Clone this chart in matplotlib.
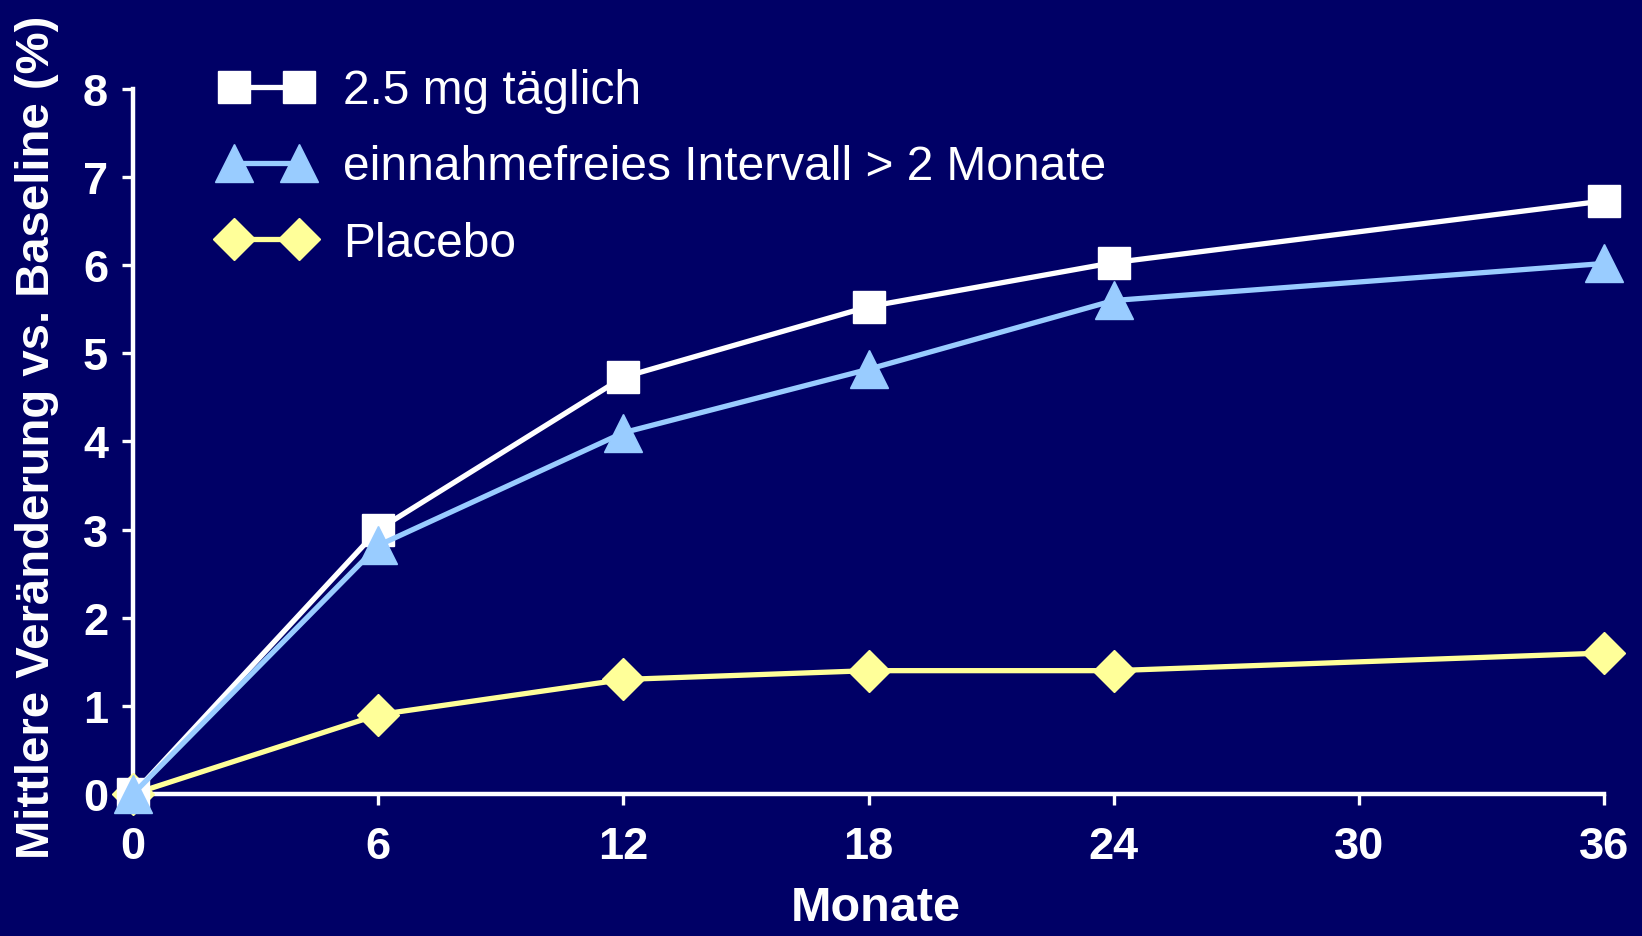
#!/usr/bin/env python3
"""
Mittlere Veränderung vs. Baseline über 36 Monate – drei Behandlungsgruppen.
"""

import matplotlib
matplotlib.use('Agg')
import matplotlib.pyplot as plt

plt.rcParams['font.family'] = ['Liberation Sans', 'DejaVu Sans']

# Data
months = [0, 6, 12, 18, 24, 36]
daily_25mg = [0.0, 3.0, 4.73, 5.53, 6.03, 6.73]
drug_holiday = [0.0, 2.82, 4.1, 4.82, 5.6, 6.02]
placebo = [0.0, 0.9, 1.3, 1.4, 1.4, 1.6]

x_ticks = [0, 6, 12, 18, 24, 30, 36]
y_ticks = [0, 1, 2, 3, 4, 5, 6, 7, 8]

BG = '#000066'
FG = 'white'

fig = plt.figure(figsize=(16.42, 9.37), dpi=100, facecolor=BG)
ax = fig.add_axes([0.081, 0.1515, 0.896, 0.7525], facecolor=BG)

# Series (placebo underneath, triangles on top)
ax.plot(months, placebo, color='#FFFF99', lw=3.8, marker='D', ms=21,
        mec='#FFFF99', label='Placebo', clip_on=False, zorder=3)
ax.plot(months, daily_25mg, color='white', lw=3.8, marker='s', ms=22.5,
        mec='white', label='2.5 mg täglich', clip_on=False, zorder=4)
ax.plot(months, drug_holiday, color='#99CCFF', lw=3.8, marker='^', ms=27,
        mec='#99CCFF', label='einnahmefreies Intervall > 2 Monate',
        clip_on=False, zorder=5)

ax.set_xlim(0, 36)
ax.set_ylim(0, 8)
ax.set_xticks(x_ticks)
ax.set_yticks(y_ticks)

for side in ('top', 'right'):
    ax.spines[side].set_visible(False)
for side in ('left', 'bottom'):
    ax.spines[side].set_color(FG)
    ax.spines[side].set_linewidth(3.2)

ax.tick_params(axis='both', colors=FG, width=2.4, length=8,
               labelsize=32.5)
ax.tick_params(axis='x', pad=15)
ax.tick_params(axis='y', pad=10)
for lbl in ax.get_xticklabels() + ax.get_yticklabels():
    lbl.set_fontweight('bold')

ax.set_xlabel('Monate', color=FG, fontsize=35, fontweight='bold')
ax.set_ylabel('Mittlere Veränderung vs. Baseline (%)', color=FG,
              fontsize=34, fontweight='bold')
ax.xaxis.set_label_coords(0.505, -0.129)
ax.yaxis.set_label_coords(-0.050, 0.508)

handles, labels = ax.get_legend_handles_labels()
order = [1, 2, 0]
leg = ax.legend([handles[i] for i in order], [labels[i] for i in order],
                loc='upper left', bbox_to_anchor=(0.1335, 0.926),
                bbox_transform=fig.transFigure, frameon=False,
                numpoints=2, handlelength=1.96, handletextpad=0.62,
                labelspacing=0.65, borderpad=0, borderaxespad=0,
                fontsize=34.5)
for t in leg.get_texts():
    t.set_color(FG)

fig.savefig('out.png', dpi=100, facecolor=BG)
